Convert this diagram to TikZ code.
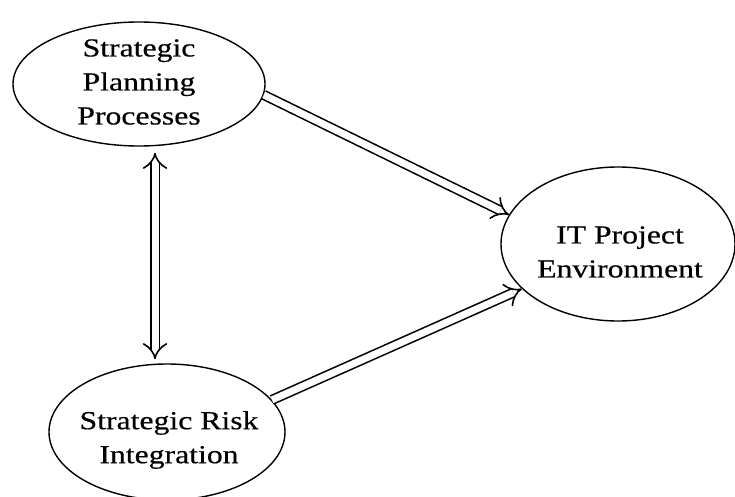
\documentclass[tikz,border=0pt]{standalone}
\usepackage{fontspec}
\setmainfont{Liberation Serif}
\usetikzlibrary{shapes.geometric, arrows.meta}

\begin{document}
\begin{tikzpicture}[x=1pt, y=-1pt,
    blob/.style={draw, ellipse, line width=1.4pt, inner sep=0pt},
    words/.style={align=center, font=\fontsize{26}{34}\selectfont\addfontfeature{FakeBold=0.4}, xscale=1.22},
    link/.style={double, double distance=7pt, line width=1.6pt}]
            \useasboundingbox (0,0) rectangle (735,497);
            \node [blob, minimum width=252pt, minimum height=124pt] (plan) at (139,84) {};
            \node [blob, minimum width=234pt, minimum height=154pt] (env) at (618,244) {};
            \node [blob, minimum width=236pt, minimum height=136pt] (risk) at (167,432) {};

            \node [words] (plantext) at (139,82) {Strategic\\Planning\\Processes};
            \node [words] (envtext) at (620,252) {IT Project\\Environment};
            \node [words] (risktext) at (169,440) {Strategic Risk\\Integration};

            \draw [link, -Implies] (plan.-5) -- (env.165);
            \draw [link, -Implies] (risk.17) -- (env.205);
            \draw [link, Implies-Implies, shorten <=6pt, shorten >=4pt] ([xshift=16pt]plan.south) -- ([xshift=-12pt]risk.north);
        \end{tikzpicture}
\end{document}
